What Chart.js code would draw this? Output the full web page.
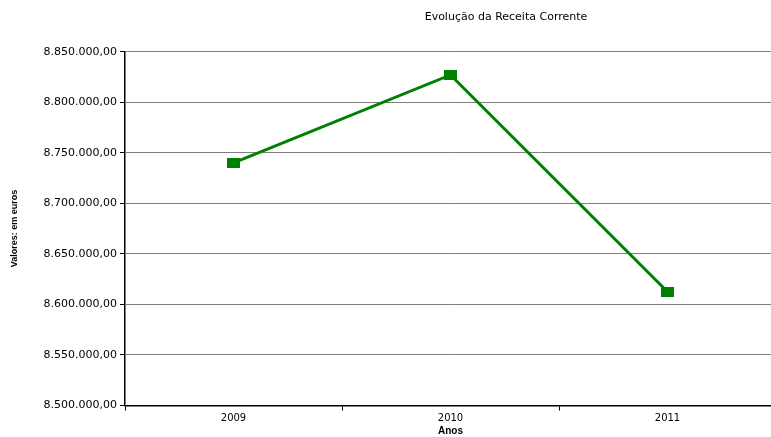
<!DOCTYPE html>
<html><head><meta charset="utf-8">
<script src="https://cdn.jsdelivr.net/npm/chart.js@4/dist/chart.umd.min.js"></script>
<style>
html,body{margin:0;padding:0;background:#fff;overflow:hidden;width:771px;height:437px;}
#wrap{width:1012px;height:437px;position:relative;}
</style></head>
<body><div id="wrap"><canvas id="c" width="1012" height="437"></canvas></div>
<script>
const categories = ['2009', '2010', '2011'];
const receita = [8740000, 8827000, 8612500];
const yTicks = [8500000, 8550000, 8600000, 8650000, 8700000, 8750000, 8800000, 8850000];
const chartTitle = 'Evolução da Receita Corrente';
const xTitle = 'Anos';
const yTitle = 'Valores: em euros';

function fmt(v){
  const s = Math.round(v).toString().replace(/\B(?=(\d{3})+(?!\d))/g, '.');
  return s + ',00';
}
const marker = document.createElement('canvas');
marker.width = 13; marker.height = 10;
const mctx = marker.getContext('2d');
mctx.fillStyle = '#008000'; mctx.fillRect(0,0,13,10);

const FONT = 'DejaVu Sans';
new Chart(document.getElementById('c'), {
  type: 'line',
  data: { labels: categories, datasets: [{
    data: receita, borderColor: '#008000', borderWidth: 3,
    pointStyle: marker, pointRadius: 6, pointHoverRadius: 6, tension: 0, fill: false
  }]},
  options: {
    responsive: false, animation: false,
    layout: { padding: 0 },
    plugins: {
      legend: { display: false }, tooltip: { enabled: false },
      title: { display: true, text: chartTitle, color: '#000',
        font: { family: FONT, size: 11, weight: 'normal' },
        padding: { top: 11, bottom: 27.5 } }
    },
    scales: {
      x: {
        offset: true,
        grid: { display: true, drawOnChartArea: false, offset: true, tickLength: 5, color: '#000' },
        border: { color: '#000', width: 1.5 },
        ticks: { color: '#000', font: { family: FONT, size: 10 }, padding: 2, maxRotation: 0 },
        title: { display: true, text: xTitle, color: '#000', padding: { top: 1, bottom: 0 },
          font: { family: 'Arial, Liberation Sans', size: 10, weight: 'bold' } },
        afterFit: s => { s.height = 31.5; }
      },
      y: {
        min: 8500000, max: 8850000,
        afterBuildTicks: s => { s.ticks = yTicks.map(v => ({ value: v })); },
        grid: { color: '#808080', lineWidth: 1, tickLength: 5, tickColor: '#000' },
        border: { color: '#000', width: 1.5 },
        ticks: { color: '#000', font: { family: FONT, size: 11 }, padding: 3,
          callback: v => fmt(v) },
        title: { display: true, text: yTitle, color: '#000', padding: { top: 9, bottom: 0 },
          font: { family: 'Arial, Liberation Sans', size: 9, weight: 'bold' } },
        afterFit: s => { s.width = 125; }
      },
      spacer: {
        type: 'linear', position: 'right', display: true,
        grid: { display: false }, border: { display: false },
        ticks: { display: false },
        afterFit: s => { s.width = 236; }
      }
    }
  }
});
</script></body></html>
